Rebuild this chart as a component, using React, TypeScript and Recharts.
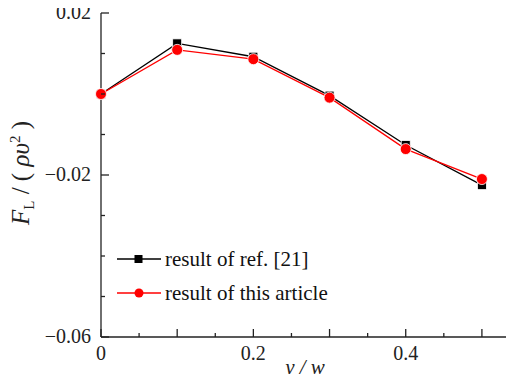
import { LineChart, Line, XAxis, YAxis, Label } from 'recharts';

// y/w positions
const positions = [0, 0.1, 0.2, 0.3, 0.4, 0.5];
// F_L / (rho v^2), reference [21]
const refValues = [0.0, 0.0125, 0.0092, -0.0004, -0.0126, -0.0225];
// F_L / (rho v^2), this article
const articleValues = [0.0, 0.0109, 0.0086, -0.0009, -0.0136, -0.021];

const xTicks = [0, 0.05, 0.1, 0.15, 0.2, 0.25, 0.3, 0.35, 0.4, 0.45, 0.5, 0.55];
const xLabels = ['0', '0.2', '0.4'];
const yTicks = [0.02, 0.01, 0, -0.01, -0.02, -0.03, -0.04, -0.05, -0.06];
const yLabels = ['0.02', '-0.02', '-0.06'];

const data = positions.map((p, i) => ({ y: p, ref: refValues[i], article: articleValues[i] }));

const FONT = 'Liberation Serif, Times New Roman, DejaVu Serif, serif';
const txt = { fontFamily: FONT };

const fmtX = (v: number) => {
  const r = Math.round(v * 100) / 100;
  return r === 0 ? '0' : String(r);
};

const XTick = (props: any) => {
  const { x, y, payload } = props;
  const v = Math.round(payload.value * 100);
  const major = v % 10 === 0;
  const label = fmtX(payload.value);
  const show = xLabels.includes(label) && v % 20 === 0;
  return (
    <g>
      <line x1={x} x2={x} y1={y} y2={y - (major ? 8 : 4)} stroke="#222" strokeWidth={1.3} />
      {show && (
        <text x={x} y={y + 23} textAnchor="middle" style={txt} fontSize={20} fill="#222">
          {label}
        </text>
      )}
    </g>
  );
};

const YTick = (props: any) => {
  const { x, y, payload } = props;
  const r = Math.round(payload.value * 100) / 100;
  const label = r === 0 ? '0' : r.toFixed(2);
  const major = yLabels.includes(label);
  return (
    <g>
      <line x1={x} x2={x + (major ? 8 : 4)} y1={y} y2={y} stroke="#222" strokeWidth={1.3} />
      {major && (
        <text x={x - 10} y={y + 6} textAnchor="end" style={txt} fontSize={20} fill="#222">
          {label.replace('-', '\u2212')}
        </text>
      )}
    </g>
  );
};

const SquareDot = (props: any) => {
  const { cx, cy } = props;
  return <rect x={cx - 4.5} y={cy - 4.5} width={9} height={9} fill="#000" stroke="#fff" strokeWidth={0.8} />;
};

const LegendBox = () => (
  <svg width={260} height={60} style={{ position: 'absolute', left: 101, top: 247, overflow: 'visible' }}>
    <line x1={16} x2={60} y1={12} y2={12} stroke="#000" strokeWidth={1.3} />
    <rect x={33.5} y={8} width={8} height={8} fill="#000" />
    <text x={64} y={19} style={txt} fontSize={21} fill="#111">result of ref. [21]</text>
    <line x1={16} x2={60} y1={46} y2={46} stroke="#ff0000" strokeWidth={1.3} />
    <circle cx={38} cy={46} r={4.5} fill="#ff0000" />
    <text x={64} y={53} style={txt} fontSize={21} fill="#111">result of this article</text>
  </svg>
);

export default function App() {
  return (
    <div style={{ position: 'relative', margin: -8, width: 514, height: 382, overflow: 'hidden', background: '#fff' }}>
      <LineChart width={530} height={382} data={data} margin={{ top: 13, right: 10, bottom: 0, left: 41 }}>
        <XAxis
          dataKey="y"
          type="number"
          domain={[0, 0.55]}
          ticks={xTicks}
          interval={0}
          tickSize={0}
          tickMargin={0}
          tick={<XTick />}
          axisLine={{ stroke: '#222', strokeWidth: 1.3 }}
          height={45}
        >
          <Label
            content={() => (
              <text x={305} y={374} textAnchor="middle" style={txt} fontSize={21} fontStyle="italic" fill="#222">
                y / w
              </text>
            )}
          />
        </XAxis>
        <YAxis
          type="number"
          domain={[-0.06, 0.02]}
          ticks={yTicks}
          interval={0}
          tickSize={0}
          tickMargin={0}
          tick={<YTick />}
          axisLine={{ stroke: '#222', strokeWidth: 1.3 }}
          width={60}
        >
          <Label
            content={() => (
              <text
                x={29}
                y={173}
                textAnchor="middle"
                transform="rotate(-90 29 173)"
                style={txt}
                fontSize={25}
                fill="#222"
              >
                <tspan fontStyle="italic">F</tspan>
                <tspan fontSize={15} dy={5}>L</tspan>
                <tspan dy={-5}> / ( </tspan>
                <tspan fontStyle="italic">ρυ</tspan>
                <tspan fontSize={15} dy={-9}>2</tspan>
                <tspan dy={9}> )</tspan>
              </text>
            )}
          />
        </YAxis>
        <Line
          dataKey="ref"
          stroke="#000"
          strokeWidth={1.3}
          dot={<SquareDot />}
          isAnimationActive={false}
        />
        <Line
          dataKey="article"
          stroke="#ff0000"
          strokeWidth={1.3}
          dot={{ r: 5.5, fill: '#ff0000', stroke: '#fff', strokeWidth: 0.8 }}
          isAnimationActive={false}
        />
      </LineChart>
      <LegendBox />
    </div>
  );
}
